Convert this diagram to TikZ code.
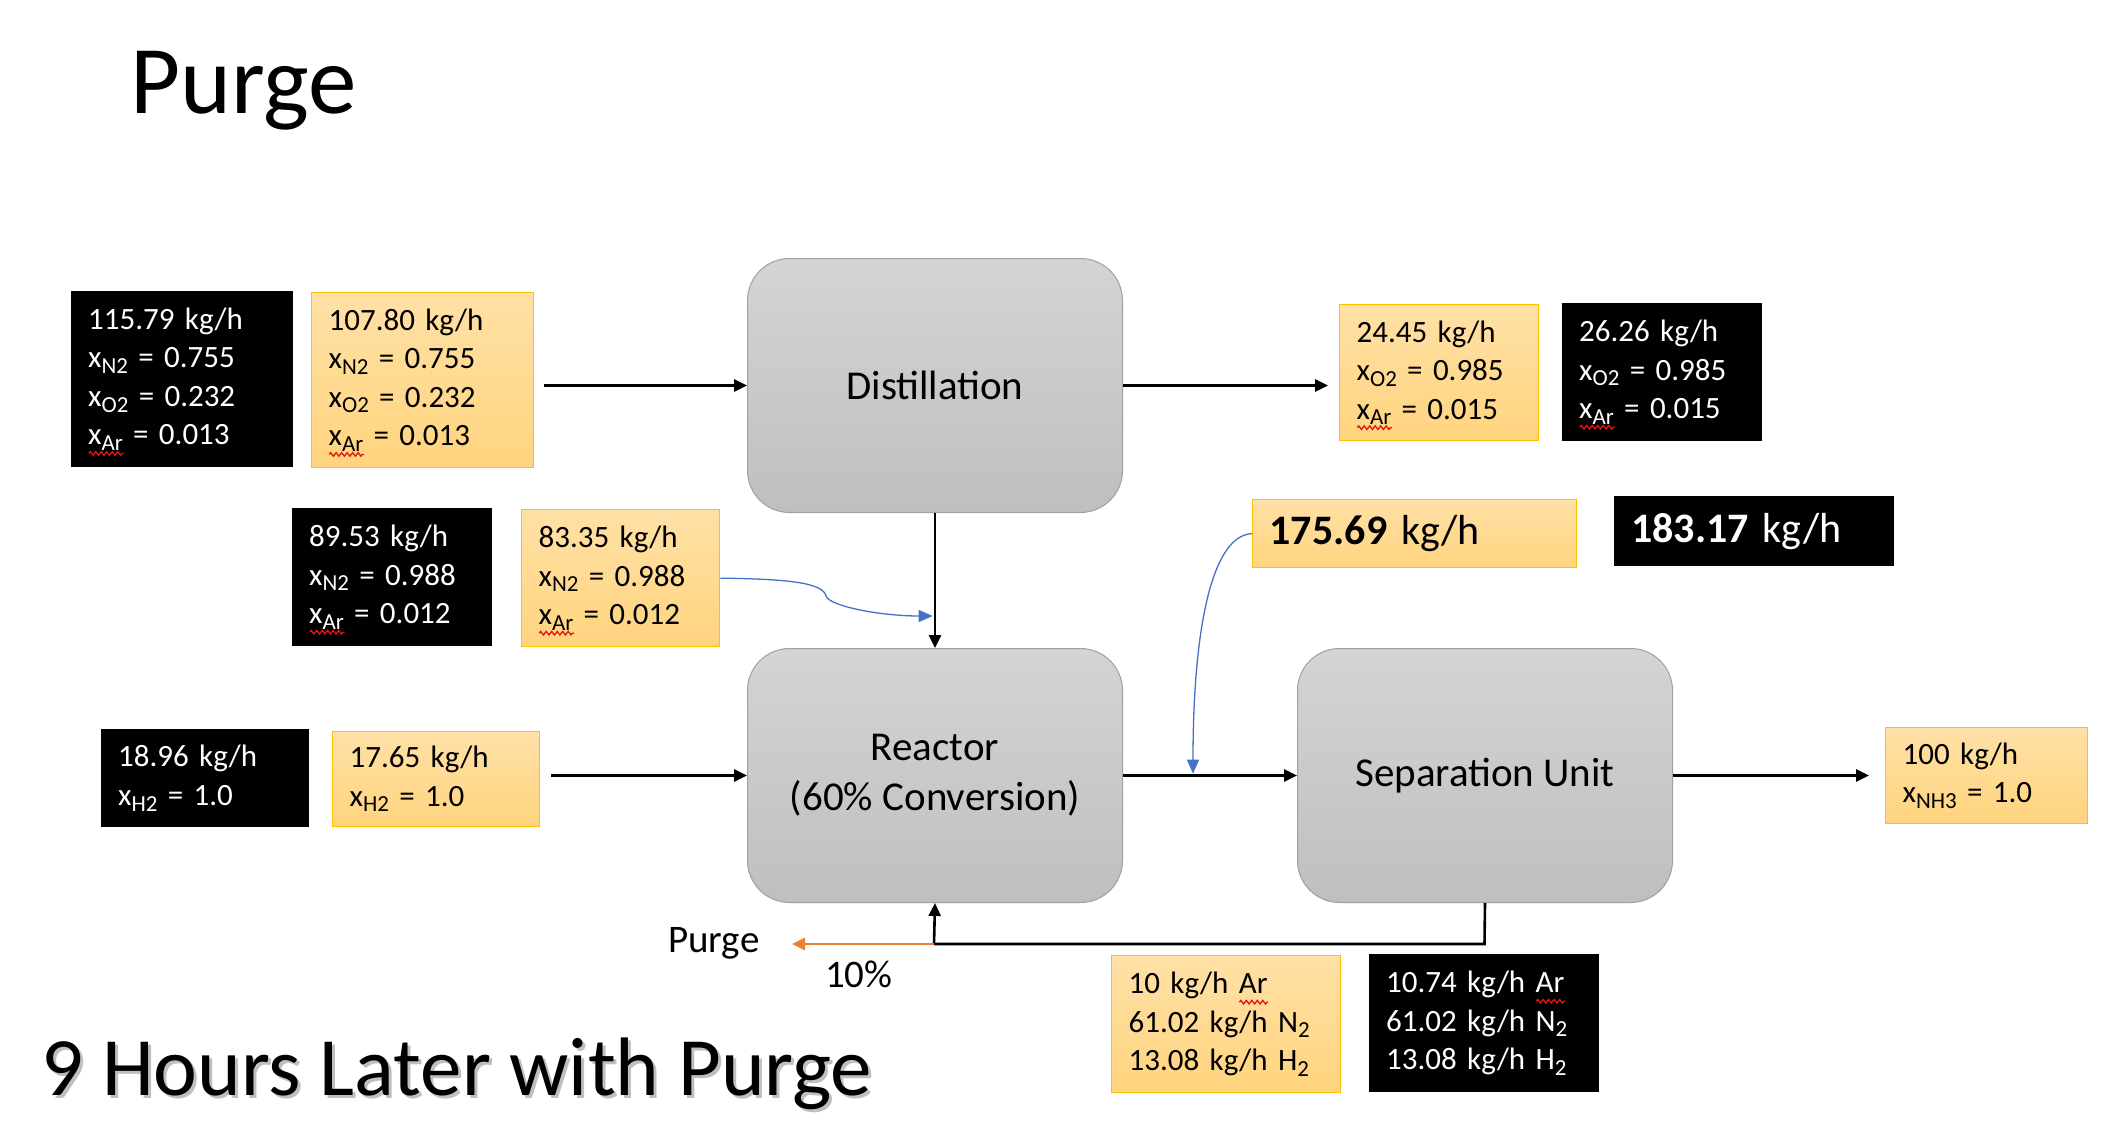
\documentclass[tikz,border=0pt]{standalone}
\usepackage{fontspec}
\setmainfont{Carlito}
\usetikzlibrary{arrows.meta,decorations.pathmorphing}
\definecolor{or1}{RGB}{255,224,166}
\definecolor{or2}{RGB}{255,212,126}
\definecolor{orline}{RGB}{255,192,0}
\definecolor{gr1}{RGB}{212,212,212}
\definecolor{gr2}{RGB}{191,191,191}
\definecolor{grline}{RGB}{160,160,160}
\definecolor{bl}{RGB}{68,114,196}
\definecolor{ora}{RGB}{237,125,49}
\definecolor{sqred}{RGB}{230,20,20}
\newsavebox\sqbox
\newlength\sqlen
\newcommand\squig[1]{\leavevmode\sbox\sqbox{#1}\setlength\sqlen{\wd\sqbox}\rlap{\raisebox{-11pt}[0pt][0pt]{\tikz[x=1pt,y=1pt]\draw[sqred,line width=1.3pt,decorate,decoration={zigzag,amplitude=1.8pt,segment length=5.5pt}] (0,0) -- (\sqlen,0);}}\usebox\sqbox}
\newcommand\xs[1]{x\raisebox{-0.18em}{\scalebox{0.74}{#1}}}
\newcommand\sbt{\raisebox{-0.18em}{\scalebox{0.74}{2}}}
\newcommand\xar{\squig{\xs{Ar}}}
\tikzset{
  basebox/.style={anchor=north west, inner xsep=17pt, inner ysep=0pt, align=left, font=\fontsize{31}{38.5}\selectfont},
  obox/.style={basebox, draw=orline, line width=1.3pt, top color=or1, bottom color=or2},
  kbox/.style={basebox, fill=black, text=white},
  unit/.style={anchor=north west, draw=grline, line width=1pt, rounded corners=42pt, top color=gr1, bottom color=gr2, align=center, font=\fontsize{41}{50}\selectfont, inner sep=0pt, minimum width=375pt, minimum height=254pt},
  flow/.style={line width=2.6pt, -{Triangle[length=13pt,width=12pt]}},
  bflow/.style={draw=bl, line width=1.3pt, -{Triangle[length=14pt,width=12pt]}}
}
\begin{document}
\begin{tikzpicture}[x=1pt,y=-1pt]
\useasboundingbox (0,0) rectangle (2128,1134);
% titles
\node[anchor=base west, inner sep=0pt, font=\fontsize{97}{110}\selectfont] (title) at (130,114) {Purge};
\node[anchor=base west, inner sep=0pt, font=\fontsize{83}{95}\selectfont, text=black!25] (subsh) at (44,1098) {9 Hours Later with Purge};
\node[anchor=base west, inner sep=0pt, font=\fontsize{83}{95}\selectfont] (sub) at (41,1095) {9 Hours Later with Purge};
% unit operations
\node[unit] (dist) at (747,258) {Distillation};
\node[unit] (reac) at (747,648) {Reactor\\(60\% Conversion)};
\node[unit] (sep) at (1297,648) {Separation Unit};
% stream boxes
\node[kbox, minimum width=222pt, minimum height=176pt, text width=188pt] (b1) at (71,291) {115.79 kg/h\\\xs{N2} = 0.755\\\xs{O2} = 0.232\\\xar{} = 0.013};
\node[obox, minimum width=222pt, minimum height=175pt, text width=188pt] (o1) at (311,292) {107.80 kg/h\\\xs{N2} = 0.755\\\xs{O2} = 0.232\\\xar{} = 0.013};
\node[obox, minimum width=199pt, minimum height=136pt, text width=165pt] (o2) at (1339,304) {24.45 kg/h\\\xs{O2} = 0.985\\\xar{} = 0.015};
\node[kbox, minimum width=200pt, minimum height=138pt, text width=166pt] (b2) at (1562,303) {26.26 kg/h\\\xs{O2} = 0.985\\\xar{} = 0.015};
\node[kbox, minimum width=200pt, minimum height=138pt, text width=166pt] (b3) at (292,508) {89.53 kg/h\\\xs{N2} = 0.988\\\xar{} = 0.012};
\node[obox, minimum width=198pt, minimum height=137pt, text width=164pt] (o3) at (521,509) {83.35 kg/h\\\xs{N2} = 0.988\\\xar{} = 0.012};
\node[obox, minimum width=324pt, minimum height=68pt, text width=290pt, font=\fontsize{42}{50}\selectfont] (o4) at (1252,499) {\textbf{175.69} kg/h};
\node[kbox, minimum width=280pt, minimum height=70pt, text width=246pt, font=\fontsize{42}{50}\selectfont] (b4) at (1614,496) {\textbf{183.17} kg/h};
\node[kbox, minimum width=208pt, minimum height=98pt, text width=174pt] (b5) at (101,729) {18.96 kg/h\\\xs{H2} = 1.0};
\node[obox, minimum width=207pt, minimum height=95pt, text width=173pt] (o5) at (332,731) {17.65 kg/h\\\xs{H2} = 1.0};
\node[obox, minimum width=202pt, minimum height=96pt, text width=168pt] (o6) at (1885,727) {100 kg/h\\\xs{NH3} = 1.0};
\node[obox, minimum width=229pt, minimum height=137pt, text width=195pt] (o7) at (1111,955) {10 kg/h \squig{Ar}\\61.02 kg/h N\sbt\\13.08 kg/h H\sbt};
\node[kbox, minimum width=230pt, minimum height=138pt, text width=196pt] (b6) at (1369,954) {10.74 kg/h \squig{Ar}\\61.02 kg/h N\sbt\\13.08 kg/h H\sbt};
% labels
\node[anchor=base west, inner sep=0pt, font=\fontsize{39}{45}\selectfont] (pl) at (668,952) {Purge};
\node[anchor=base west, inner sep=0pt, font=\fontsize{39}{45}\selectfont] (pct) at (825,987) {10\%};
% junction coordinates
\coordinate (bj) at (934,616);
\coordinate (sj) at (1193,775);
\coordinate (r1) at (1484.5,944);
\coordinate (r2) at (934,944);
\coordinate (pg) at (792,944);
% connectors
\draw[flow, shorten <=10pt] (o1.east |- dist.west) -- (dist.west);
\draw[flow, shorten >=11pt] (dist.east) -- (dist.east -| o2.west);
\draw[flow] (dist.south) -- (reac.north);
\draw[flow, shorten <=11pt] (o5.east |- reac.west) -- (reac.west);
\draw[flow] (reac.east) -- (sep.west);
\draw[flow, shorten >=16pt] (sep.east) -- (sep.east -| o6.west);
\draw[line width=2.6pt] (sep.south) -- (r1) -- (r2);
\draw[flow] (r2) -- (reac.south);
\draw[draw=ora, line width=2.6pt, -{Triangle[length=13pt,width=12pt]}] (r2) -- (pg);
\draw[bflow, shorten >=1.3pt] (o3.east) .. controls (790,579) and (823,583) .. (826,596) .. controls (829,606) and (880,616) .. (bj);
\draw[bflow, shorten >=1.3pt] (o4.west) .. controls (1214,535) and (1193,620) .. (sj);
\end{tikzpicture}
\end{document}
